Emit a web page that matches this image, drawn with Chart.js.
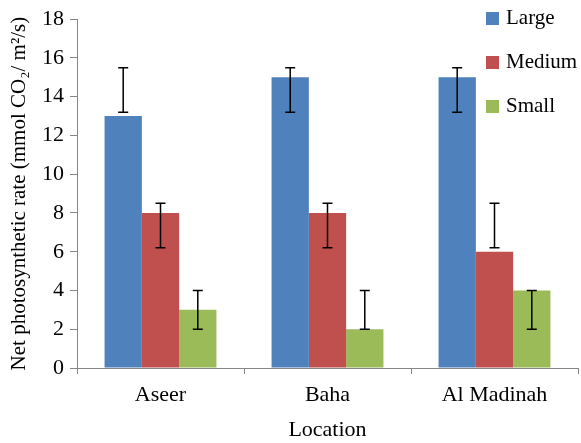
<!DOCTYPE html>
<html>
<head>
<meta charset="utf-8">
<script src="https://cdn.jsdelivr.net/npm/chart.js@4.4.1/dist/chart.umd.min.js"></script>
<style>
  body { margin: 0; background: #fff; }
  #wrap { position: relative; width: 581px; height: 443px; }
  #leyenda { position: absolute; left: 486px; top: 0px; font-family: "Liberation Serif", serif; font-size: 21px; color: #000; }
  .item { position: absolute; left: 0; white-space: nowrap; }
  .cuadro { display: inline-block; width: 13px; height: 13px; margin-right: 7px; vertical-align: -1px; }
</style>
</head>
<body>
<div id="wrap">
  <canvas id="myChart" width="581" height="443"></canvas>
  <div id="leyenda"></div>
</div>
<script>
// datos
const ubicaciones = ["Aseer", "Baha", "Al Madinah"];
const tamanos = ["Large", "Medium", "Small"];
const colores = ["#4F81BD", "#C0504D", "#9BBB59"];

const large = [13, 15, 15];
const medium = [8, 8, 6];
const small = [3, 2, 4];

// extremos de las barras de error (bajo / alto)
const largeBajo = [13.2, 13.2, 13.2];
const largeAlto = [15.5, 15.5, 15.5];
const mediumBajo = [6.2, 6.2, 6.2];
const mediumAlto = [8.5, 8.5, 8.5];
const smallBajo = [2, 2, 2];
const smallAlto = [4, 4, 4];

const yTicks = [0, 2, 4, 6, 8, 10, 12, 14, 16, 18];

const fuente = "'Liberation Serif', 'Times New Roman', serif";
const errores = [[largeBajo, largeAlto], [mediumBajo, mediumAlto], [smallBajo, smallAlto]];

// plugin para dibujar las barras de error con las escalas
const barrasError = {
    id: "barrasError",
    afterDatasetsDraw(chart) {
        const ctx = chart.ctx;
        const y = chart.scales.y;
        ctx.save();
        ctx.strokeStyle = "#000";
        ctx.lineWidth = 1.5;
        chart.data.datasets.forEach((ds, i) => {
            const meta = chart.getDatasetMeta(i);
            meta.data.forEach((bar, j) => {
                const x = bar.x;
                const y1 = y.getPixelForValue(errores[i][0][j]);
                const y2 = y.getPixelForValue(errores[i][1][j]);
                ctx.beginPath();
                ctx.moveTo(x, y1); ctx.lineTo(x, y2);
                ctx.moveTo(x - 5, y1); ctx.lineTo(x + 5, y1);
                ctx.moveTo(x - 5, y2); ctx.lineTo(x + 5, y2);
                ctx.stroke();
            });
        });
        ctx.restore();
    }
};

const datos = [large, medium, small];

const config = {
    type: "bar",
    data: {
        labels: ubicaciones,
        datasets: tamanos.map((t, i) => ({
            label: t,
            data: datos[i],
            backgroundColor: colores[i],
            borderWidth: 0,
            barPercentage: 1,
            categoryPercentage: 0.67
        }))
    },
    options: {
        responsive: false,
        animation: false,
        layout: { padding: { top: 6, right: 3, left: 0, bottom: 0 } },
        plugins: {
            legend: { display: false },
            tooltip: { enabled: false }
        },
        scales: {
            x: {
                offset: true,
                grid: { drawOnChartArea: false, color: "#868686", tickLength: 6, offset: true },
                border: { color: "#868686", width: 1 },
                ticks: { color: "#000", font: { family: fuente, size: 22 }, padding: 8 },
                title: { display: true, text: "Location", color: "#000", font: { family: fuente, size: 22 }, padding: { top: 4, bottom: 0 } },
                afterFit(scale) { scale.height = 75; }
            },
            y: {
                min: 0,
                max: 18,
                afterBuildTicks(scale) { scale.ticks = yTicks.map(v => ({ value: v })); },
                grid: { drawOnChartArea: false, color: "#868686", tickLength: 7 },
                border: { color: "#868686", width: 1 },
                ticks: { color: "#000", font: { family: fuente, size: 22 }, padding: 6 },
                title: { display: true, text: "Net photosynthetic rate (mmol CO\u2082/ m\u00B2/s)", color: "#000", font: { family: fuente, size: 21 }, padding: { top: 7, bottom: 4 } },
                afterFit(scale) { scale.width = 77; }
            }
        }
    },
    plugins: [barrasError]
};

const myChart = new Chart(document.getElementById("myChart"), config);

// leyenda en html
const leyenda = document.getElementById("leyenda");
let template = "";
tamanos.forEach((t, i) => {
    template += `<div class="item" style="top:${5 + i * 44}px"><span class="cuadro" style="background:${colores[i]}"></span>${t}</div>`;
});
leyenda.innerHTML = template;
</script>
</body>
</html>
